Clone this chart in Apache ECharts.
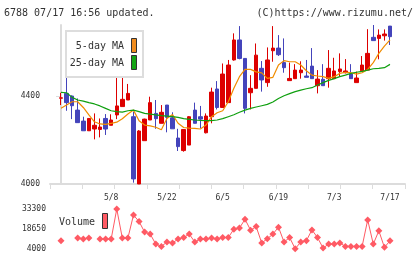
<!DOCTYPE html>
<html>
<head>
<meta charset="utf-8">
<script src="https://cdn.jsdelivr.net/npm/echarts@6/dist/echarts.min.js"></script>
<style>
html, body { margin: 0; padding: 0; background: #fff; }
#main { width: 420px; height: 259px; }
</style>
</head>
<body>
<div id="main"></div>
<script>
// trading days shown on the chart
var dates = ['4/20','4/21','4/24','4/25','4/26','4/27','4/28','5/1','5/2','5/8',
  '5/9','5/10','5/11','5/12','5/15','5/16','5/17','5/18','5/19','5/22',
  '5/23','5/24','5/25','5/26','5/29','5/30','5/31','6/1','6/2','6/5',
  '6/6','6/7','6/8','6/9','6/12','6/13','6/14','6/15','6/16','6/19',
  '6/20','6/21','6/22','6/23','6/26','6/27','6/28','6/29','6/30','7/3',
  '7/4','7/5','7/6','7/7','7/10','7/11','7/12','7/13','7/14','7/17'];

var openP = [4390,4412,4400,4336,4286,4242,4250,4248,4298,4267,
  4314,4352,4382,4306,4000,4197,4291,4321,4276,4359,
  4301,4209,4152,4177,4336,4306,4233,4306,4432,4348,
  4370,4564,4655,4571,4415,4435,4526,4461,4606,4618,
  4552,4470,4479,4506,4491,4536,4447,4476,4479,4479,
  4511,4506,4500,4461,4515,4518,4667,4662,4674,4718];
var closeP = [4392,4370,4356,4279,4242,4298,4267,4259,4250,4291,
  4355,4385,4412,4023,4241,4295,4370,4297,4326,4303,
  4251,4170,4248,4306,4276,4295,4309,4418,4348,4500,
  4541,4655,4571,4344,4435,4586,4473,4564,4618,4588,
  4529,4480,4518,4518,4485,4479,4477,4447,4526,4514,
  4523,4514,4479,4482,4541,4594,4652,4677,4682,4670];
var lowP = [4359,4333,4295,4279,4242,4242,4203,4212,4223,4267,
  4295,4352,4382,4006,4000,4197,4291,4251,4276,4235,
  4251,4150,4147,4177,4276,4253,4230,4276,4339,4348,
  4370,4561,4567,4321,4339,4435,4420,4442,4556,4582,
  4506,4470,4479,4479,4485,4479,4412,4447,4438,4479,
  4488,4503,4479,4461,4515,4518,4652,4567,4652,4632];
var highP = [4415,4500,4403,4389,4306,4298,4321,4298,4318,4317,
  4553,4483,4455,4329,4245,4297,4397,4382,4359,4359,
  4326,4251,4248,4309,4370,4355,4321,4438,4468,4548,
  4564,4685,4718,4571,4495,4639,4559,4621,4718,4677,
  4662,4552,4545,4558,4564,4618,4518,4545,4609,4574,
  4594,4568,4545,4511,4582,4704,4723,4703,4703,4718];

var ma5 = [4344,4359,4374,4374,4348,4314,4283,4273,4271,4276,
  4281,4297,4318,4336,4288,4268,4264,4258,4247,4298,
  4316,4276,4257,4254,4253,4250,4268,4306,4324,4333,
  4374,4435,4488,4521,4521,4510,4505,4480,4485,4541,
  4561,4556,4556,4541,4515,4495,4491,4488,4480,4488,
  4503,4508,4506,4500,4506,4521,4552,4594,4627,4655];
var ma25 = [4417,4415,4394,4382,4377,4370,4364,4355,4344,4333,
  4329,4327,4333,4336,4329,4321,4318,4314,4311,4309,
  4306,4303,4297,4294,4291,4289,4288,4288,4291,4297,
  4306,4315,4326,4336,4344,4350,4356,4362,4373,4389,
  4401,4411,4420,4427,4433,4438,4450,4461,4471,4479,
  4488,4495,4503,4508,4512,4518,4524,4526,4529,4544];

var volume = [10000,null,null,12000,11300,12000,null,11300,11300,11300,
  33300,12000,12000,28900,24100,16400,14900,7600,5900,9100,
  8400,11300,12400,14900,9100,11300,11300,12000,11300,12400,
  12400,18500,19300,25800,17800,20400,8400,11500,14900,20000,
  9100,12400,4200,9100,10000,18000,12400,4700,7600,7600,
  8400,5900,5900,5900,5900,25300,7600,17300,5200,10000];

var priceTicks = [4000, 4400];
var volTicks = [4000, 18650, 33300];
var labelIdx = [9, 19, 29, 39, 49, 59];

var X_MIN = -1.97, X_MAX = 61.69;
var xTicks = [];
for (var k = 0; k <= 11; k++) {
    xTicks.push(X_MIN + k * (X_MAX - X_MIN) / 11);
}

var candles = [], ma5Line = [], ma25Line = [], volLine = [];
for (var i = 0; i < dates.length; i++) {
    candles.push([i, openP[i], closeP[i], lowP[i], highP[i]]);
    ma5Line.push([i, ma5[i]]);
    ma25Line.push([i, ma25[i]]);
    volLine.push([i, volume[i] == null ? '-' : volume[i]]);
}

var mono = 'DejaVu Sans Mono';
var axisGray = '#dcdcdc';
var plain = function (v) { return String(v); };

var chart = echarts.init(document.getElementById('main'));
var option = {
    animation: false,
    backgroundColor: '#fff',
    title: [
        { text: '6788 07/17 16:56 updated.', left: 4, top: 8, padding: 0,
          textStyle: { fontFamily: mono, fontSize: 10, fontWeight: 'normal', color: '#333' } },
        { text: '(C)https://www.rizumu.net/', right: 7, top: 8, padding: 0,
          textStyle: { fontFamily: mono, fontSize: 10, fontWeight: 'normal', color: '#333' } }
    ],
    grid: [
        { left: 50, top: 25, width: 355, height: 159 },
        { left: 50, top: 209, width: 355, height: 40 }
    ],
    xAxis: [
        {
            type: 'value', gridIndex: 0, min: X_MIN, max: X_MAX,
            splitLine: { show: false },
            axisLine: { show: true, lineStyle: { color: axisGray, width: 2 } },
            axisTick: { show: true, customValues: xTicks, length: 5, lineStyle: { color: axisGray, width: 1 } },
            axisLabel: {
                show: true, customValues: labelIdx, margin: 10,
                fontFamily: mono, fontSize: 8, color: '#333',
                formatter: function (v) { return dates[Math.round(v)]; }
            }
        },
        {
            type: 'value', gridIndex: 1, min: X_MIN, max: X_MAX, show: false
        }
    ],
    yAxis: [
        {
            type: 'value', gridIndex: 0, min: 4000, max: 4723,
            splitLine: { show: false },
            axisLine: { show: true, lineStyle: { color: axisGray, width: 2 } },
            axisTick: { show: true, customValues: priceTicks, length: 5, lineStyle: { color: axisGray } },
            axisLabel: { customValues: priceTicks, margin: 10, fontFamily: mono, fontSize: 8, color: '#333', formatter: plain }
        },
        {
            type: 'value', gridIndex: 1, min: 4000, max: 33300,
            splitLine: { show: false },
            axisLine: { show: false },
            axisTick: { show: false },
            axisLabel: { customValues: volTicks, margin: 4, fontFamily: mono, fontSize: 8, color: '#333', formatter: plain }
        }
    ],
    series: [
        {
            type: 'candlestick', xAxisIndex: 0, yAxisIndex: 0,
            dimensions: ['idx', 'open', 'close', 'lowest', 'highest'],
            encode: { x: 0, y: [1, 2, 3, 4] },
            barWidth: 4,
            data: candles,
            itemStyle: {
                color: '#dd0000', color0: '#4444bb',
                borderColor: '#dd0000', borderColor0: '#4444bb',
                borderWidth: 1
            }
        },
        {
            type: 'line', name: '5-day MA', xAxisIndex: 0, yAxisIndex: 0,
            data: ma5Line, showSymbol: false,
            lineStyle: { color: '#f08c00', width: 1.2 }
        },
        {
            type: 'line', name: '25-day MA', xAxisIndex: 0, yAxisIndex: 0,
            data: ma25Line, showSymbol: false,
            lineStyle: { color: '#10a010', width: 1.2 }
        },
        {
            type: 'line', name: 'Volume', xAxisIndex: 1, yAxisIndex: 1,
            data: volLine, clip: false,
            symbol: 'diamond', symbolSize: 7,
            itemStyle: { color: '#ff5a64' },
            lineStyle: { color: '#ff5a64', width: 1 }
        }
    ],
    graphic: [
        { type: 'rect', shape: { x: 66, y: 31, width: 77, height: 46 },
          style: { fill: '#fff', stroke: '#dddddd', lineWidth: 2 }, z: 10 },
        { type: 'text', x: 124, y: 46, z: 11,
          style: { text: '5-day MA', font: '10px ' + mono, fill: '#333', align: 'right', verticalAlign: 'middle', textAlign: 'right', textVerticalAlign: 'middle' } },
        { type: 'text', x: 124, y: 63, z: 11,
          style: { text: '25-day MA', font: '10px ' + mono, fill: '#333', align: 'right', verticalAlign: 'middle', textAlign: 'right', textVerticalAlign: 'middle' } },
        { type: 'rect', shape: { x: 131.5, y: 38.5, width: 5, height: 14 }, z: 11,
          style: { fill: '#f08c1e', stroke: '#333', lineWidth: 1 } },
        { type: 'rect', shape: { x: 131.5, y: 55.5, width: 5, height: 14 }, z: 11,
          style: { fill: '#14a514', stroke: '#333', lineWidth: 1 } },
        { type: 'text', x: 59, y: 222, z: 11,
          style: { text: 'Volume', font: '10px ' + mono, fill: '#333', align: 'left', verticalAlign: 'middle', textAlign: 'left', textVerticalAlign: 'middle' } },
        { type: 'rect', shape: { x: 102.5, y: 213.5, width: 5, height: 15 }, z: 11,
          style: { fill: '#ff5a64', stroke: '#333', lineWidth: 1 } }
    ]
};
chart.setOption(option);
</script>
</body>
</html>
